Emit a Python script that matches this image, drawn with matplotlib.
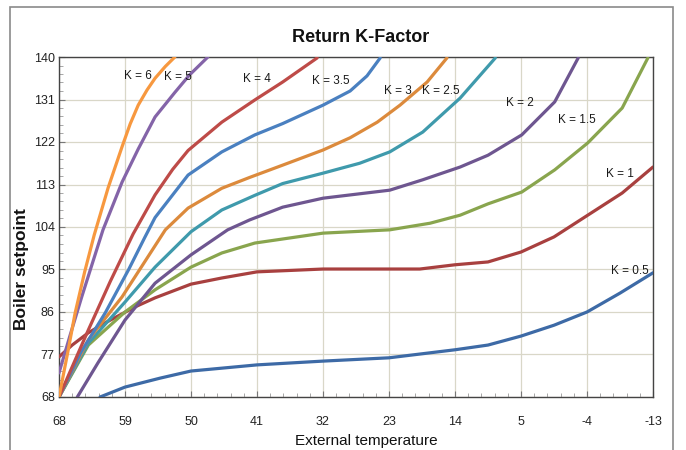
import matplotlib
matplotlib.use("Agg")
import matplotlib.pyplot as plt
from matplotlib.ticker import AutoMinorLocator, FixedLocator
from matplotlib.patches import Rectangle

plt.rcParams['font.family'] = ['Liberation Sans', 'DejaVu Sans']
plt.rcParams['axes.unicode_minus'] = False

# ---- data (external temperature, boiler setpoint) ----
k05_t = [62.4, 59, 54.2, 50, 41, 32, 23, 14, 9.5, 5, 0.5, -4, -8.5, -13]
k05_y = [68, 70.1, 72.0, 73.5, 74.8, 75.6, 76.3, 78.0, 79.0, 80.9, 83.2, 86.0, 90.0, 94.3]

k1_t = [68, 66.2, 64.0, 61.7, 57.6, 54.9, 50, 45.8, 41, 32, 23, 18.8, 14, 9.5, 5, 0.5, -4.1, -8.8, -13]
k1_y = [76.5, 79.0, 81.6, 83.7, 87.1, 89.0, 91.9, 93.2, 94.5, 95.1, 95.1, 95.1, 96.0, 96.6, 98.7, 101.9, 106.5, 111.2, 116.7]

k15_t = [68, 64.0, 59, 54.9, 50, 45.8, 41.3, 32, 22.9, 17.4, 13.3, 9.5, 4.9, 0.4, -4.1, -8.8, -12.3]
k15_y = [68, 79.0, 86.0, 90.7, 95.5, 98.5, 100.6, 102.7, 103.4, 104.8, 106.5, 108.9, 111.4, 116.1, 121.8, 129.2, 139.8]

k2_t = [65.5, 62.7, 59, 54.9, 50, 45.0, 42.0, 37.5, 32, 22.9, 18.4, 13.3, 9.5, 4.9, 0.4, -2.8]
k2_y = [68, 75.2, 84.3, 92.1, 98.1, 103.4, 105.5, 108.2, 110.1, 111.8, 114.0, 116.7, 119.2, 123.5, 130.5, 139.8]

k25_t = [68, 64.0, 59, 54.9, 50, 45.8, 41.3, 37.5, 32, 27, 22.9, 18.4, 13.3, 8.5]
k25_y = [68, 79.4, 88.1, 95.5, 103.0, 107.6, 110.7, 113.2, 115.4, 117.5, 119.9, 124.1, 131.3, 139.8]

k3_t = [68, 64.0, 59.4, 53.5, 50.4, 45.8, 42.0, 37.5, 32, 28.3, 24.6, 21.5, 17.8, 15.1]
k3_y = [68, 80.1, 89.2, 103.4, 108.0, 112.2, 114.5, 117.1, 120.3, 122.9, 126.2, 129.8, 134.7, 139.8]

k35_t = [68, 65.0, 61.7, 58.5, 56.3, 54.9, 50.4, 45.8, 41.3, 37.5, 32, 28.3, 26.0, 24.2]
k35_y = [68, 77.5, 85.8, 95.0, 101.8, 106.0, 115.0, 119.9, 123.5, 125.9, 129.8, 132.8, 136.0, 139.8]

k4_t = [68, 64.0, 61.0, 57.9, 54.9, 52.5, 50.4, 45.8, 41.3, 37.5, 32.8]
k4_y = [68, 82.2, 92.5, 102.5, 110.8, 116.2, 120.2, 126.2, 130.9, 134.7, 139.8]

k5_t = [68, 66.5, 64.9, 62.0, 59.4, 57.2, 54.9, 52.2, 50.2, 47.7]
k5_y = [73.1, 81.0, 89.2, 103.4, 113.5, 120.5, 127.3, 132.5, 136.2, 140]

k6_t = [68, 66.8, 65.8, 64.5, 63.2, 61.3, 59.4, 58.3, 57.2, 56.0, 54.9, 53.5, 52.2]
k6_y = [68, 77.5, 85.8, 94.5, 102.3, 112.3, 121.0, 125.8, 129.8, 133.0, 135.5, 138.0, 140]

x_ticks = [68, 59, 50, 41, 32, 23, 14, 5, -4, -13]
y_ticks = [68, 77, 86, 95, 104, 113, 122, 131, 140]

labels = ["K = 6", "K = 5", "K = 4", "K = 3.5", "K = 3", "K = 2.5", "K = 2", "K = 1.5", "K = 1", "K = 0.5"]
label_t = [57.2, 51.8, 41.0, 31.0, 21.8, 15.9, 5.1, -2.6, -8.5, -9.9]
label_y = [136.0, 135.8, 135.3, 134.9, 132.8, 132.8, 130.3, 126.7, 115.2, 94.7]

series = [
    (k05_t, k05_y, '#3d6aa6'),
    (k1_t, k1_y, '#a8403f'),
    (k15_t, k15_y, '#89a54e'),
    (k2_t, k2_y, '#6e5690'),
    (k25_t, k25_y, '#3f9aac'),
    (k3_t, k3_y, '#dc8a3c'),
    (k35_t, k35_y, '#4a80c0'),
    (k4_t, k4_y, '#be4b48'),
    (k5_t, k5_y, '#8464a8'),
    (k6_t, k6_y, '#f7983f'),
]

fig = plt.figure(figsize=(6.86, 4.5), dpi=100)
ax = fig.add_axes([59/686, 1-397/450, (653-59)/686, (397-57)/450])

for t, y, c in series:
    ax.plot(t, y, color=c, lw=2.3, solid_capstyle='round', solid_joinstyle='round', zorder=3)

ax.set_xlim(68, -13)
ax.set_ylim(68, 140)
ax.xaxis.set_major_locator(FixedLocator(x_ticks))
ax.yaxis.set_major_locator(FixedLocator(y_ticks))
ax.xaxis.set_minor_locator(AutoMinorLocator(5))
ax.yaxis.set_minor_locator(AutoMinorLocator(5))
ax.grid(True, which='major', color='#d9d7c8', lw=0.9, zorder=0)
ax.tick_params(axis='both', which='major', direction='in', length=4, color='#777777', labelsize=9, labelcolor='#222222')
ax.tick_params(axis='both', which='minor', direction='in', length=3, color='#999999')
ax.tick_params(axis='x', which='major', pad=14)
ax.tick_params(axis='y', which='major', pad=3)
for s in ax.spines.values():
    s.set_color('#444444')
    s.set_linewidth(1.0)

for txt, t, y in zip(labels, label_t, label_y):
    ax.text(t, y, txt, fontsize=8.5, color='#1a1a1a', ha='center', va='center', zorder=4)

fig.text(0.525, 1-37/450, "Return K-Factor", fontsize=13, fontweight='bold', ha='center', va='center', color='#111111')
fig.text(22/686, 1-269/450, "Boiler setpoint", fontsize=12.5, fontweight='bold', rotation=90, ha='center', va='center', color='#111111')
fig.text(366/686, 1-441/450, "External temperature", fontsize=11, ha='center', va='center', color='#111111')

fig.patches.append(Rectangle((10/686, -0.05), (673-10)/686, 1.05-7/450, transform=fig.transFigure,
                             fill=False, edgecolor='#8a8a8a', lw=1.2))

fig.savefig("out.png", dpi=100)
